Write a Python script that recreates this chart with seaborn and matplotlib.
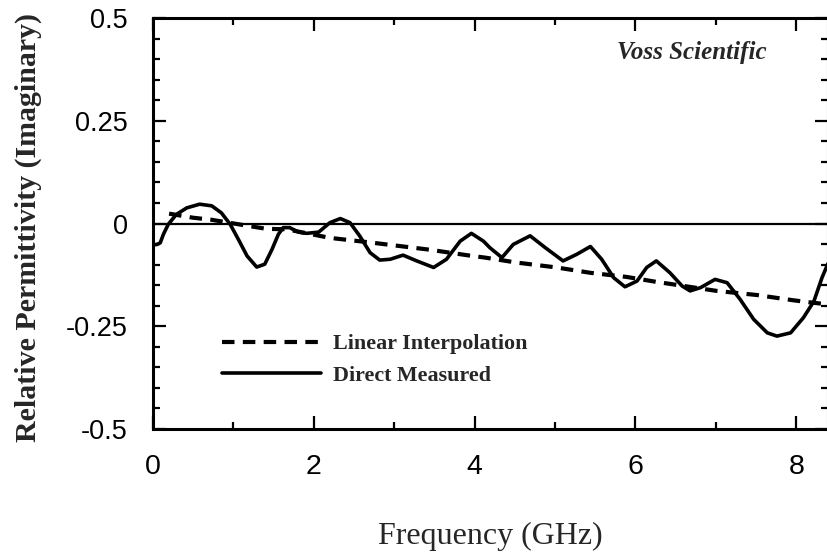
import matplotlib
matplotlib.use("Agg")
import matplotlib.pyplot as plt
import matplotlib.ticker as mticker
import seaborn as sns
import pandas as pd

# direct measured curve (GHz, imaginary permittivity)
meas_f = [0.0, 0.05, 0.09, 0.13, 0.19, 0.29, 0.42, 0.58, 0.73, 0.85, 0.96, 1.06, 1.17,
          1.29, 1.39, 1.48, 1.56, 1.62, 1.70, 1.81, 1.91, 2.06, 2.20, 2.33, 2.45, 2.57,
          2.70, 2.82, 2.95, 3.11, 3.28, 3.49, 3.65, 3.82, 3.96, 4.11, 4.19, 4.34, 4.48,
          4.69, 4.88, 5.10, 5.27, 5.44, 5.58, 5.73, 5.87, 6.02, 6.14, 6.26, 6.43, 6.58,
          6.68, 6.81, 6.99, 7.14, 7.30, 7.47, 7.64, 7.76, 7.93, 8.09, 8.22, 8.32, 8.40]
meas_v = [-0.052, -0.051, -0.047, -0.026, -0.002, 0.022, 0.038, 0.047, 0.043, 0.026,
          -0.002, -0.038, -0.079, -0.106, -0.099, -0.063, -0.026, -0.010, -0.010, -0.021,
          -0.024, -0.021, 0.002, 0.012, 0.002, -0.030, -0.071, -0.089, -0.087, -0.077,
          -0.091, -0.107, -0.087, -0.043, -0.024, -0.043, -0.059, -0.083, -0.051, -0.030,
          -0.059, -0.091, -0.075, -0.056, -0.087, -0.132, -0.154, -0.140, -0.107, -0.091,
          -0.120, -0.152, -0.164, -0.156, -0.136, -0.144, -0.184, -0.233, -0.266, -0.274,
          -0.266, -0.229, -0.189, -0.132, -0.095]

# linear interpolation line
interp_f = [0.20, 0.50, 0.73, 1.19, 1.41, 1.66, 2.20, 2.74, 3.45, 3.90, 4.13, 4.52,
            5.02, 5.44, 5.89, 6.26, 6.33, 7.01, 7.51, 7.97, 8.22, 8.40]
interp_v = [0.024, 0.014, 0.009, -0.006, -0.013, -0.014, -0.035, -0.047, -0.064, -0.077,
            -0.083, -0.095, -0.107, -0.120, -0.130, -0.142, -0.144, -0.164, -0.174, -0.187,
            -0.193, -0.197]

ytick_vals = [-0.5, -0.25, 0, 0.25, 0.5]
ytick_text = ["-0.5", "-0.25", "0", "0.25", "0.5"]
xtick_vals = [0, 2, 4, 6, 8]

meas = pd.DataFrame({"f": meas_f, "v": meas_v})
interp = pd.DataFrame({"f": interp_f, "v": interp_v})

sns.set_style("ticks")
plt.rcParams["font.family"] = ["Liberation Sans", "DejaVu Sans"]

W, H = 827, 554
fig = plt.figure(figsize=(W / 100, H / 100), dpi=100)
ax = fig.add_axes([153 / W, 1 - 429 / H, 675 / W, 411 / H])

sns.lineplot(data=interp, x="f", y="v", ax=ax, color="black", linewidth=3.0,
             linestyle=(0, (3.0, 2.0)), label="Linear Interpolation")
sns.lineplot(data=meas, x="f", y="v", ax=ax, color="black", linewidth=2.6,
             label="Direct Measured")
ax.axhline(0, color="black", linewidth=1.6, zorder=1)

ax.set_xlim(0, 8.395)
ax.set_ylim(-0.5, 0.5)
ax.set_xticks(xtick_vals)
ax.set_xticklabels([str(v) for v in xtick_vals])
ax.set_yticks(ytick_vals)
ax.set_yticklabels(ytick_text)
ax.xaxis.set_minor_locator(mticker.MultipleLocator(1))
ax.yaxis.set_minor_locator(mticker.MultipleLocator(0.05))
ax.tick_params(which="both", direction="in", top=True, right=True, colors="black")
ax.tick_params(which="major", length=9.5, width=1.6)
ax.tick_params(which="minor", length=5, width=1.6)
ax.tick_params(axis="y", which="major", labelsize=19.5, pad=18)
ax.tick_params(axis="x", which="major", labelsize=20.5, pad=18)
for s in ax.spines.values():
    s.set_linewidth(2.2)
    s.set_color("black")

ax.set_xlabel("Frequency (GHz)", fontsize=23, family="Liberation Serif")
ax.xaxis.set_label_coords(0.5, -0.225)
ax.set_ylabel("Relative Permittivity (Imaginary)", fontsize=21.5,
              family="Liberation Serif", fontweight="bold")
ax.yaxis.set_label_coords(-0.165, 0.49)

ax.text(692 / W, 1 - 52 / H, "Voss Scientific", transform=fig.transFigure,
        ha="center", va="center", fontsize=18, family="Liberation Serif",
        fontweight="bold", fontstyle="italic")

ax.legend(loc="upper left", bbox_to_anchor=(211 / W, 1 - 323 / H),
          bbox_transform=fig.transFigure, frameon=False, borderpad=0,
          handlelength=4.5, handletextpad=0.55, labelspacing=0.5,
          prop={"family": "Liberation Serif", "weight": "bold", "size": 15.8})

fig.savefig("out.png", dpi=100)
